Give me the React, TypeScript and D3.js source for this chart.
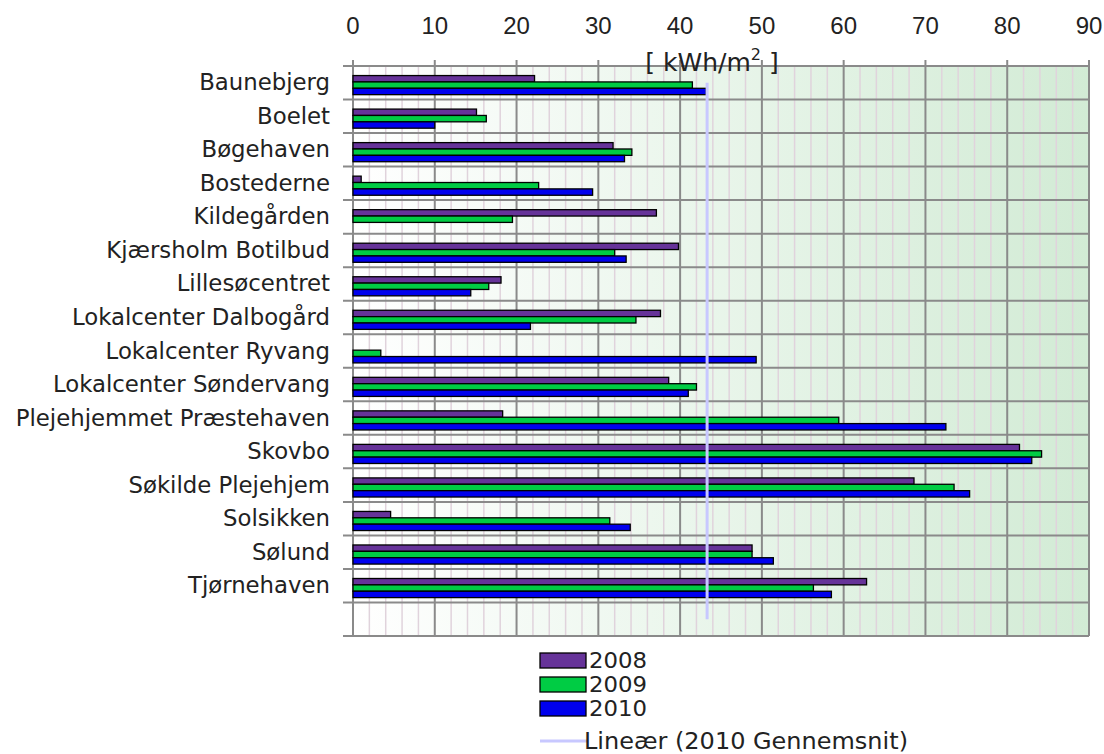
import React from "react";
import * as d3 from "d3";

const categories = [
  "Baunebjerg",
  "Boelet",
  "Bøgehaven",
  "Bostederne",
  "Kildegården",
  "Kjærsholm Botilbud",
  "Lillesøcentret",
  "Lokalcenter Dalbogård",
  "Lokalcenter Ryvang",
  "Lokalcenter Søndervang",
  "Plejehjemmet Præstehaven",
  "Skovbo",
  "Søkilde Plejehjem",
  "Solsikken",
  "Sølund",
  "Tjørnehaven",
];
const values2008 = [22.2, 15.1, 31.8, 1.0, 37.1, 39.8, 18.1, 37.6, 0, 38.6, 18.3, 81.5, 68.6, 4.6, 48.8, 62.8];
const values2009 = [41.5, 16.3, 34.1, 22.7, 19.5, 32.0, 16.6, 34.6, 3.4, 42.0, 59.4, 84.2, 73.5, 31.4, 48.8, 56.3];
const values2010 = [43.2, 10.0, 33.2, 29.3, 0, 33.4, 14.4, 21.7, 49.3, 41.0, 72.5, 83.0, 75.4, 33.9, 51.4, 58.5];
const average2010 = 43.3;
const seriesNames = ["2008", "2009", "2010"];
const trendName = "Lineær (2010 Gennemsnit)";
const xTicks = [0, 10, 20, 30, 40, 50, 60, 70, 80, 90];
const unitLabel = "[ kWh/m";

const colors = ["#663399", "#00cc44", "#0000ee"];

export default function App() {
  const W = 1104, H = 754;
  const left = 353, right = 1089, top = 66, bottom = 636;
  const x = d3.scaleLinear().domain([0, 90]).range([left, right]);
  const bandDomain = [...categories, ""];
  const y = d3.scaleBand<string>().domain(bandDomain).range([top, bottom]).padding(0);
  const bw = y.bandwidth();
  const barH = bw * 0.19;
  const series = [values2008, values2009, values2010];
  const minor = d3.range(0, 91, 2).filter((v) => v % 10 !== 0);
  const boundaries = d3.range(bandDomain.length + 1).map((i) => top + i * bw);

  return (
    <svg width={W} height={H} style={{ position: "absolute", left: 0, top: 0 }}>
      <defs>
        <linearGradient id="bg" x1="0" x2="1" y1="0" y2="0">
          <stop offset="0" stopColor="#ffffff" />
          <stop offset="1" stopColor="#d2ebd5" />
        </linearGradient>
      </defs>
      <rect x={0} y={0} width={W} height={H} fill="#ffffff" />
      <rect x={left} y={top} width={right - left} height={bottom - top} fill="url(#bg)" />
      {minor.map((v) => (
        <line key={"m" + v} x1={x(v)} x2={x(v)} y1={top} y2={bottom} stroke="#e0d3dc" strokeWidth={1.5} />
      ))}
      {xTicks.map((v) => (
        <line key={"M" + v} x1={x(v)} x2={x(v)} y1={top - 6} y2={bottom} stroke="#8a8a8a" strokeWidth={2} />
      ))}
      {boundaries.map((yy, i) => (
        <line key={"h" + i} x1={left - 10} x2={right} y1={yy} y2={yy} stroke="#8a8a8a" strokeWidth={2} />
      ))}
      {xTicks.map((v) => (
        <text key={"t" + v} x={x(v)} y={34} textAnchor="middle" fontFamily="Liberation Sans, Arial, sans-serif" fontSize={24} fill="#222">
          {v}
        </text>
      ))}
      <text x={712} y={71} textAnchor="middle" fontFamily="DejaVu Sans, sans-serif" fontSize={25} fill="#222">
        {unitLabel}
        <tspan fontSize={16} dy={-11}>2</tspan>
        <tspan dy={11}> ]</tspan>
      </text>
      {categories.map((c) => (
        <text key={"c" + c} x={330} y={(y(c) as number) + bw / 2 + 7.5} textAnchor="end" fontFamily="DejaVu Sans, sans-serif" fontSize={22.8} fill="#222">
          {c}
        </text>
      ))}
      {series.map((vals, si) =>
        vals.map((v, i) =>
          v > 0 ? (
            <rect
              key={"b" + si + "-" + i}
              x={x(0)}
              y={(y(categories[i]) as number) + bw * 0.285 + si * barH}
              width={x(v) - x(0)}
              height={barH}
              fill={colors[si]}
              stroke="#000"
              strokeWidth={1.3}
            />
          ) : null
        )
      )}
      <line
        x1={x(average2010)}
        x2={x(average2010)}
        y1={(y(categories[0]) as number) + bw / 2}
        y2={(y("") as number) + bw / 2}
        stroke="#c8c8ff"
        strokeWidth={3}
      />
      {seriesNames.map((n, i) => (
        <g key={"l" + n}>
          <rect x={540} y={660 + i * 24 - 7} width={46} height={15} fill={colors[i]} stroke="#000" strokeWidth={1.3} />
          <text x={589} y={660 + i * 24 + 8} fontFamily="DejaVu Sans, sans-serif" fontSize={20.5} fill="#222" textLength={58} lengthAdjust="spacingAndGlyphs">
            {n}
          </text>
        </g>
      ))}
      <line x1={540} x2={588} y1={741} y2={741} stroke="#c8c8ff" strokeWidth={3} />
      <text x={584} y={749} fontFamily="DejaVu Sans, sans-serif" fontSize={22.5} fill="#222" textLength={324} lengthAdjust="spacingAndGlyphs">
        {trendName}
      </text>
    </svg>
  );
}
